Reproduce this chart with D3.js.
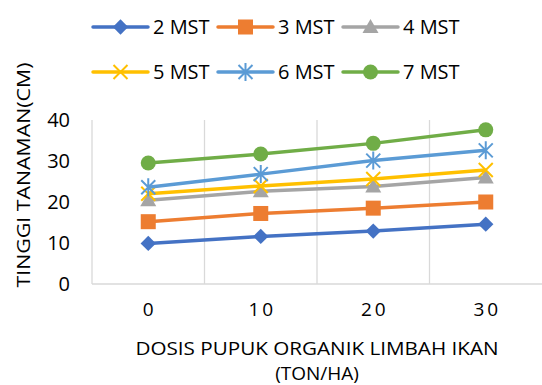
<!DOCTYPE html>
<html>
<head>
<meta charset="utf-8">
<style>
  body { margin: 0; background: #fff; }
  svg { font-family: "Open Sans", "Noto Sans", sans-serif; }
</style>
</head>
<body>
<svg></svg>
<script src="https://cdnjs.cloudflare.com/ajax/libs/d3/7.8.5/d3.min.js"></script>
<script>
const width = 542;
const height = 385;

// data
const doses = ['0', '10', '20', '30'];
const seriesNames = ['2 MST', '3 MST', '4 MST', '5 MST', '6 MST', '7 MST'];
const mst2 = [9.9, 11.6, 12.9, 14.6];
const mst3 = [15.2, 17.2, 18.5, 20.0];
const mst4 = [20.4, 22.6, 23.8, 26.0];
const mst5 = [22.0, 23.9, 25.6, 27.8];
const mst6 = [23.6, 26.8, 30.1, 32.6];
const mst7 = [29.5, 31.7, 34.3, 37.6];
const yTicks = [0, 10, 20, 30, 40];

const seriesValues = [mst2, mst3, mst4, mst5, mst6, mst7];
const colors = ['#4472C4', '#ED7D31', '#A5A5A5', '#FFC000', '#5B9BD5', '#70AD47'];
const markers = ['diamond', 'square', 'triangle', 'x', 'star', 'circle'];

const plot = { left: 92, right: 542, top: 120, bottom: 284 };

const svg = d3.select('svg')
    .attr('width', width).attr('height', height);

const x = d3.scaleBand()
    .domain(doses)
    .range([plot.left, plot.right]);

const y = d3.scaleLinear()
    .domain([0, 40])
    .range([plot.bottom, plot.top]);

// vertical gridlines at category boundaries
const bounds = doses.map(d => x(d));
svg.append('g')
    .selectAll('line')
    .data(bounds)
    .enter().append('line')
    .attr('x1', d => d).attr('x2', d => d)
    .attr('y1', plot.top).attr('y2', plot.bottom)
    .style('stroke', '#d9d9d9')
    .style('stroke-width', 1.3);

// bottom axis line
svg.append('line')
    .attr('x1', plot.left).attr('x2', plot.right)
    .attr('y1', plot.bottom).attr('y2', plot.bottom)
    .style('stroke', '#d9d9d9')
    .style('stroke-width', 1.5);

// y axis labels
const yAxis = svg.append('g')
    .attr('transform', `translate(${plot.left},0)`)
    .call(d3.axisLeft(y).tickValues(yTicks).tickSize(0).tickPadding(22));
yAxis.select('.domain').remove();
yAxis.selectAll('text')
    .style('font-family', '"Open Sans", sans-serif')
    .style('font-size', '20px')
    .style('fill', '#000');

// x axis labels
const xAxis = svg.append('g')
    .attr('transform', `translate(0,${plot.bottom})`)
    .call(d3.axisBottom(x).tickSize(0).tickPadding(19));
xAxis.select('.domain').remove();
xAxis.selectAll('text')
    .style('font-family', '"Open Sans", sans-serif')
    .style('font-size', '19px')
    .style('letter-spacing', '3px')
    .attr('dx', '1.5px')
    .style('fill', '#000');

// axis titles
svg.append('text')
    .attr('x', (plot.left + plot.right) / 2)
    .attr('y', 355)
    .attr('text-anchor', 'middle')
    .style('font-size', '19px')
    .attr('textLength', 363)
    .attr('lengthAdjust', 'spacingAndGlyphs')
    .text('DOSIS PUPUK ORGANIK LIMBAH IKAN');
svg.append('text')
    .attr('x', (plot.left + plot.right) / 2)
    .attr('y', 380)
    .attr('text-anchor', 'middle')
    .style('font-size', '19px')
    .text('(TON/HA)');

svg.append('text')
    .attr('transform', 'translate(30,175) rotate(-90)')
    .attr('text-anchor', 'middle')
    .style('font-size', '19px')
    .attr('textLength', 225)
    .attr('lengthAdjust', 'spacingAndGlyphs')
    .text('TINGGI TANAMAN(CM)');

function drawMarker(g, type, color) {
    if (type === 'diamond') {
        g.append('path').attr('d', d3.symbol(d3.symbolDiamond2, 150)())
            .style('fill', color);
    } else if (type === 'square') {
        g.append('rect').attr('x', -7.5).attr('y', -7.5)
            .attr('width', 15).attr('height', 15)
            .style('fill', color);
    } else if (type === 'triangle') {
        g.append('path').attr('d', 'M0,-8L8,6L-8,6Z')
            .style('fill', color);
    } else if (type === 'x') {
        g.append('path').attr('d', 'M-7,-7L7,7M-7,7L7,-7')
            .style('stroke', color).style('stroke-width', 2);
    } else if (type === 'star') {
        g.append('path').attr('d', 'M-7,-7L7,7M-7,7L7,-7M0,-9L0,9')
            .style('stroke', color).style('stroke-width', 2);
    } else {
        g.append('circle').attr('r', 7.5).style('fill', color);
    }
}

const line = d3.line()
    .x((d, i) => x(doses[i]) + x.bandwidth() / 2)
    .y(d => y(d));

seriesValues.forEach((vals, s) => {
    svg.append('path')
        .datum(vals)
        .attr('d', line)
        .style('fill', 'none')
        .style('stroke', colors[s])
        .style('stroke-width', 3.5)
        .style('stroke-linejoin', 'round');
    vals.forEach((v, i) => {
        const g = svg.append('g')
            .attr('transform', `translate(${x(doses[i]) + x.bandwidth() / 2},${y(v)})`);
        drawMarker(g, markers[s], colors[s]);
    });
});

// legend: two rows of three
const legend = svg.append('g');
seriesNames.forEach((name, s) => {
    const lx = 93 + (s % 3) * 125;
    const ly = s < 3 ? 27 : 72;
    const g = legend.append('g').attr('transform', `translate(${lx},${ly})`);
    g.append('line')
        .attr('x1', 0).attr('x2', 55)
        .attr('y1', 0).attr('y2', 0)
        .style('stroke', colors[s])
        .style('stroke-width', 3.5)
        .style('stroke-linecap', 'round');
    const m = g.append('g').attr('transform', 'translate(27.5,0)');
    drawMarker(m, markers[s], colors[s]);
    g.append('text')
        .attr('x', 60)
        .attr('y', 0)
        .attr('dy', '0.35em')
        .style('font-size', '20px')
        .text(name);
});
</script>
</body>
</html>
